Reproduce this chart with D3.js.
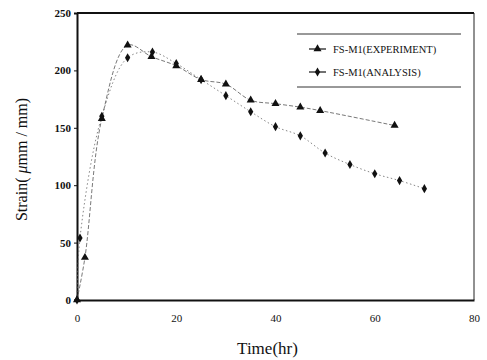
<!DOCTYPE html>
<html>
<head>
<meta charset="utf-8">
<script src="https://cdn.jsdelivr.net/npm/d3@7"></script>
<style>
body { margin: 0; background: #fff; }
text { font-family: "Liberation Serif", "DejaVu Serif", serif; fill: #111; }
</style>
</head>
<body>
<div id="chart"></div>
<script>
// values
var expTime   = [0, 1.6, 5, 10.2, 15, 20, 25, 30, 35, 40, 45, 49, 64];
var expStrain = [0, 37, 158, 222, 212, 204, 192, 188, 174, 171, 168, 165, 152];
var anaTime   = [0, 0.6, 5, 10.2, 15.2, 20, 25, 30, 35, 40, 45, 50, 55, 60, 65, 70];
var anaStrain = [0, 54, 160, 211, 216, 206, 192, 178, 164, 151, 143, 128, 118, 110, 104, 97];
var xTicks = [0, 20, 40, 60, 80];
var yTicks = [0, 50, 100, 150, 200, 250];
var seriesNames = ["FS-M1(EXPERIMENT)", "FS-M1(ANALYSIS)"];

function init(){
	var width = 487, height = 360;
	var margin = {left: 77, right: 13, top: 13, bottom: 60};

	var svg = d3.select("#chart").append("svg")
				.attr("width", width)
				.attr("height", height);

	var x = d3.scaleLinear().domain([0, 80]).range([margin.left, width - margin.right]);
	var y = d3.scaleLinear().domain([0, 250]).range([height - margin.bottom, margin.top]);

	//frame
	svg.append("line").attr("x1", x(0)).attr("x2", x(80)).attr("y1", y(250)).attr("y2", y(250))
		.attr("stroke", "#111").attr("stroke-width", 2);
	svg.append("line").attr("x1", x(80)).attr("x2", x(80)).attr("y1", y(250)).attr("y2", y(0))
		.attr("stroke", "#222").attr("stroke-width", 1);

	//axes
	var xAxis = svg.append("g")
		.attr("transform", "translate(0," + y(0) + ")")
		.call(d3.axisBottom(x).tickValues(xTicks).tickSize(0).tickPadding(14));
	xAxis.select(".domain").attr("stroke", "#111").attr("stroke-width", 2);
	xAxis.selectAll("text").style("font-size", "11px");

	var yAxis = svg.append("g")
		.attr("transform", "translate(" + x(0) + ",0)")
		.call(d3.axisLeft(y).tickValues(yTicks).tickSize(3).tickPadding(3));
	yAxis.select(".domain").attr("stroke", "#111").attr("stroke-width", 2);
	yAxis.selectAll(".tick line").attr("stroke", "#111");
	yAxis.selectAll("text").style("font-size", "11px").style("font-weight", "bold");

	//axis titles
	svg.append("text")
		.attr("x", x(40) - 8)
		.attr("y", 354)
		.attr("text-anchor", "middle")
		.style("font-size", "17px")
		.text("Time(hr)");

	var ytitle = svg.append("text")
		.attr("transform", "translate(27," + (y(125) + 3) + ") rotate(-90)")
		.attr("text-anchor", "middle")
		.style("font-size", "16px");
	ytitle.append("tspan").text("Strain( ");
	ytitle.append("tspan").style("font-style", "italic").text("μ");
	ytitle.append("tspan").text("mm / mm)");

	//series
	var expData = expTime.map((t, i) => [t, expStrain[i]]);
	var anaData = anaTime.map((t, i) => [t, anaStrain[i]]);

	var line = d3.line()
		.x(d => x(d[0]))
		.y(d => y(d[1]))
		.curve(d3.curveCatmullRom.alpha(0.5));

	svg.append("path").datum(expData)
		.attr("d", line)
		.attr("fill", "none")
		.attr("stroke", "#555")
		.attr("stroke-width", 0.8)
		.attr("stroke-dasharray", "4,2");

	svg.append("path").datum(anaData)
		.attr("d", line)
		.attr("fill", "none")
		.attr("stroke", "#666")
		.attr("stroke-width", 0.8)
		.attr("stroke-dasharray", "1.5,2.5");

	var tri = d3.symbol().type(d3.symbolTriangle).size(28);
	var dia = d3.symbol().type(d3.symbolDiamond).size(24);

	svg.selectAll("path.exp").data(expData).enter()
		.append("path")
		.attr("class", "exp")
		.attr("d", tri)
		.attr("transform", d => "translate(" + x(d[0]) + "," + y(d[1]) + ")")
		.attr("fill", "#111");

	svg.selectAll("path.ana").data(anaData).enter()
		.append("path")
		.attr("class", "ana")
		.attr("d", dia)
		.attr("transform", d => "translate(" + x(d[0]) + "," + y(d[1]) + ")")
		.attr("fill", "#111");

	//legend
	var lx = 297, lw = 164;
	svg.append("line").attr("x1", lx).attr("x2", lx + lw).attr("y1", 34).attr("y2", 34)
		.attr("stroke", "#333").attr("stroke-width", 1);
	svg.append("line").attr("x1", lx).attr("x2", lx + lw).attr("y1", 87).attr("y2", 87)
		.attr("stroke", "#333").attr("stroke-width", 1);

	var legend = svg.selectAll("g.legend").data(seriesNames).enter()
		.append("g")
		.attr("class", "legend")
		.attr("transform", (d, i) => "translate(" + 309 + "," + (49 + i * 23) + ")");

	legend.append("line")
		.attr("x1", 0).attr("x2", 17)
		.attr("stroke", "#111").attr("stroke-width", 1.2);

	legend.append("path")
		.attr("d", (d, i) => i == 0 ? tri() : dia())
		.attr("transform", "translate(8.5,0)")
		.attr("fill", "#111");

	legend.append("text")
		.attr("x", 24)
		.attr("y", 4)
		.style("font-size", "10.5px")
		.text(d => d);
}

window.onload = init;
</script>
</body>
</html>
